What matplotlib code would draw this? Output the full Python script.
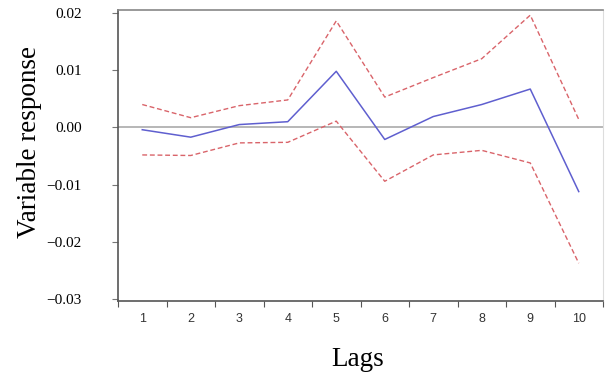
import numpy as np
import matplotlib
matplotlib.use('Agg')
import matplotlib.pyplot as plt

# impulse response by lag, with upper/lower bands
lags = [1, 2, 3, 4, 5, 6, 7, 8, 9, 10]
response = [-0.0004, -0.0017, 0.0005, 0.0010, 0.0098, -0.0021, 0.0019, 0.0040, 0.0067, -0.0112]
upper = [0.0040, 0.0017, 0.0038, 0.0048, 0.0186, 0.0053, 0.0087, 0.0120, 0.0196, 0.0014]
lower = [-0.0048, -0.0049, -0.0027, -0.0026, 0.0011, -0.0094, -0.0048, -0.0040, -0.0062, -0.0237]
yticks = [0.02, 0.01, 0.0, -0.01, -0.02, -0.03]
ytick_labels = ['0.02', '0.01', '0.00', '\u22120.01', '\u22120.02', '\u22120.03']

fig = plt.figure(figsize=(6.05, 3.76), dpi=100)
ax = fig.add_axes([118/605, 1 - 301/376, 485/605, 291/376])

ax.axhline(0, color='#aaaaaa', linewidth=1.2, zorder=1)
ax.plot(lags, upper, color='#d9646a', linestyle=(0, (3.5, 2)), linewidth=1.0)
ax.plot(lags, lower, color='#d9646a', linestyle=(0, (3.5, 2)), linewidth=1.0)
ax.plot(lags, response, color='#5f5fcf', linewidth=1.1)

ax.set_xlim(0.5, 10.5)
ax.set_ylim(-0.0303, 0.0205)

# x ticks sit between categories, labels at centres
ax.set_xticks(np.arange(0.5, 11.0, 1.0))
ax.set_xticklabels([])
ax.set_xticks(lags, minor=True)
ax.set_xticklabels([str(l) for l in lags], minor=True,
                   fontfamily='Liberation Sans', fontsize=9, color='#333333')
ax.tick_params(axis='x', which='minor', length=0, pad=9)
ax.tick_params(axis='x', which='major', length=4, direction='out', color='#555555')

ax.set_yticks(yticks)
ax.set_yticklabels(ytick_labels, fontfamily='Liberation Serif', fontsize=11)
ax.tick_params(axis='y', length=4, direction='out', color='#777777', pad=22)

ax.spines['left'].set_color('#555555')
ax.spines['bottom'].set_color('#555555')
ax.spines['top'].set_color('#888888')
ax.spines['right'].set_color('#dddddd')
for s in ['left', 'bottom', 'top']:
    ax.spines[s].set_linewidth(1.2)

fig.text(30/605, 1 - 142/376, 'Variable response', rotation=90,
         fontfamily='Liberation Serif', fontsize=19.5, ha='center', va='center')
fig.text(358/605, 1 - 359/376, 'Lags',
         fontfamily='Liberation Serif', fontsize=19.5, ha='center', va='center')

plt.savefig('out.png', dpi=100)
